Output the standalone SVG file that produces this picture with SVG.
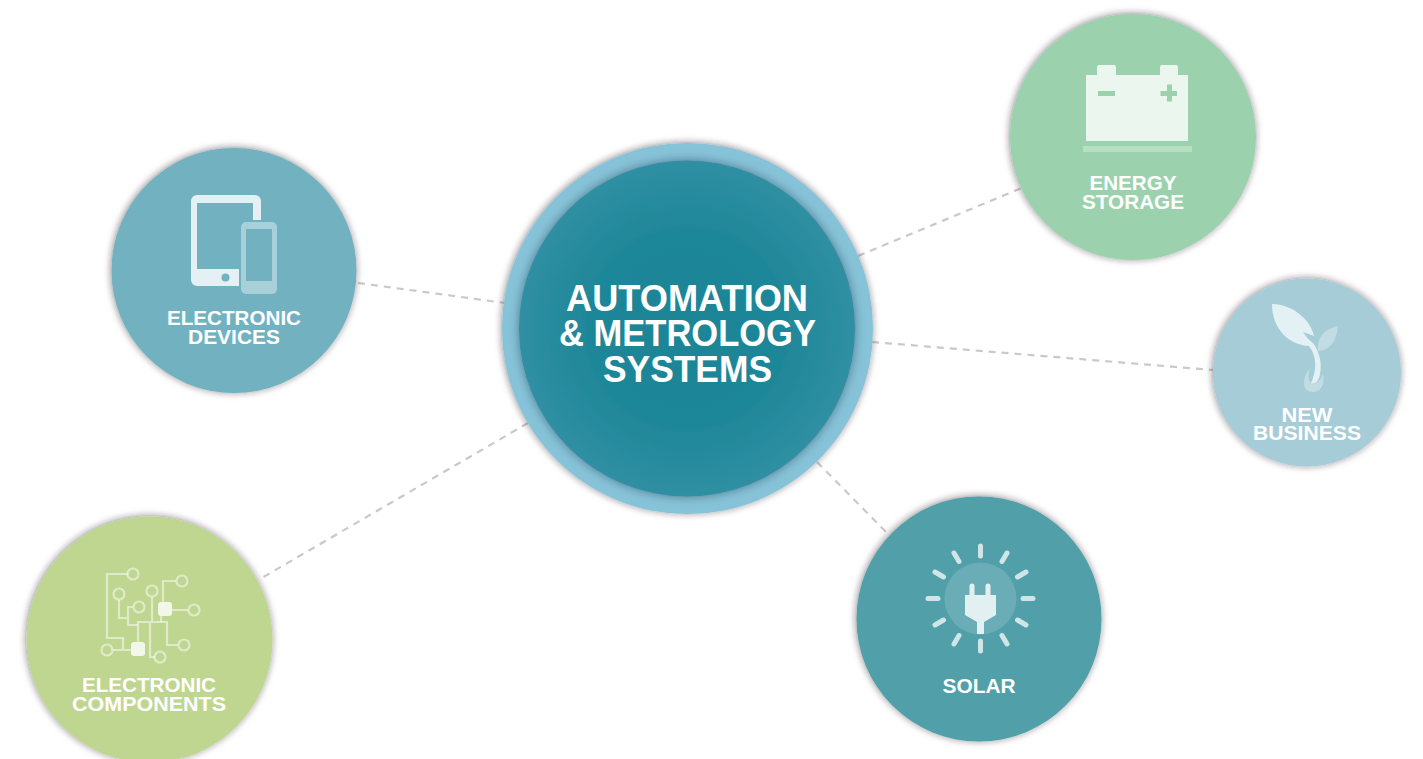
<svg xmlns="http://www.w3.org/2000/svg" width="1423" height="759" viewBox="0 0 1423 759">
<style>
text{font-family:"Liberation Sans",Arial,sans-serif;font-weight:700;fill:#fff;text-anchor:middle}
.lab{font-size:20px}
.title{font-size:36px}
.conn{fill:none;stroke:#c9c9c9;stroke-width:2.2;stroke-dasharray:7 6}
.ic{fill:none;stroke:#fff;stroke-opacity:.5;stroke-width:2.2}
</style>
<defs>
<filter id="sh" x="-15%" y="-15%" width="130%" height="130%"><feDropShadow dx="-0.500" dy="-0.500" stdDeviation="3.500" flood-color="#2a1f2a" flood-opacity=".55"/></filter>
<filter id="sh2" x="-15%" y="-15%" width="130%" height="130%"><feDropShadow dx="0" dy="0" stdDeviation="5" flood-color="#23394a" flood-opacity=".55"/></filter>
<radialGradient id="core"><stop offset="0" stop-color="#1a8596"/><stop offset=".6" stop-color="#1f8799"/><stop offset="1" stop-color="#308fa3"/></radialGradient>
</defs>
<g id="connectors">
<path class="conn" d="M358 283L505 303"/>
<path class="conn" d="M528 423L260 579"/>
<path class="conn" d="M858 256L1024 187"/>
<path class="conn" d="M872 342L1213 370"/>
<path class="conn" d="M817 462L888 534"/>
</g>
<g id="center">
<circle cx="687.500" cy="328.500" r="185.500" fill="#87c3d8" filter="url(#sh)"/>
<circle cx="687" cy="328.500" r="168" fill="url(#core)" filter="url(#sh2)"/>
<text class="title" x="687" y="311" textLength="242" lengthAdjust="spacingAndGlyphs">AUTOMATION</text>
<text class="title" x="687.500" y="346" textLength="257" lengthAdjust="spacingAndGlyphs">&amp; METROLOGY</text>
<text class="title" x="687.500" y="382" textLength="169" lengthAdjust="spacingAndGlyphs">SYSTEMS</text>
</g>
<g id="electronic-devices">
<circle cx="234" cy="270.500" r="122.500" fill="#72b2c0" filter="url(#sh)"/>
<path fill-rule="evenodd" fill="#e4f0f3" d="M197 195H255a6 6 0 0 1 6 6V220H253V203H197V269H239V286H197a6 6 0 0 1-6-6V201a6 6 0 0 1 6-6Z"/>
<circle cx="225.500" cy="277.500" r="4" fill="#72b2c0"/>
<path fill-rule="evenodd" fill="#a8d0d8" d="M246 222H272a5 5 0 0 1 5 5V289a5 5 0 0 1-5 5H246a5 5 0 0 1-5-5V227a5 5 0 0 1 5-5ZM246 229V281H272V229Z"/>
<text class="lab" x="234" y="325" textLength="134" lengthAdjust="spacingAndGlyphs">ELECTRONIC</text>
<text class="lab" x="234" y="344" textLength="92" lengthAdjust="spacingAndGlyphs">DEVICES</text>
</g>
<g id="energy-storage">
<circle cx="1133" cy="137" r="123" fill="#9bd2ad" filter="url(#sh)"/>
<path fill="#ebf6ef" d="M1086 75H1097V67a2 2 0 0 1 2-2H1114a2 2 0 0 1 2 2V75H1160V67a2 2 0 0 1 2-2H1176a2 2 0 0 1 2 2V75H1188V141H1086Z"/>
<path fill="#9bd2ad" d="M1098 91H1115V96H1098ZM1160.500 91H1167V84.500H1172V91H1177V96H1172V101.500H1167V96H1160.500Z"/>
<rect x="1083" y="146" width="109" height="6" fill="#b6dfc3"/>
<text class="lab" x="1133" y="190" textLength="87" lengthAdjust="spacingAndGlyphs">ENERGY</text>
<text class="lab" x="1133" y="209" textLength="102" lengthAdjust="spacingAndGlyphs">STORAGE</text>
</g>
<g id="new-business">
<circle cx="1307" cy="372.500" r="94" fill="#a6ccd7" filter="url(#sh)"/>
<path fill="#fff" fill-opacity=".32" d="M1338 326C1336 342 1330 350 1318 351C1316 336 1326 329 1338 326Z"/>
<path fill="#fff" fill-opacity=".32" d="M1310 369C1301 378 1302 392 1313 392C1323 392 1325 380 1323 374C1320 382 1315 385 1311 383C1308 380 1308 375 1310 369Z"/>
<path fill="#e3f0f4" d="M1272 304C1296 305 1311 322 1314 336L1303 332C1306 337 1310 341 1314 344C1320 354 1322 364 1320 374C1319 381 1315 385 1311 383C1316 372 1318 358 1309 346C1290 345 1272 330 1272 304Z"/>
<text class="lab" x="1307" y="422" textLength="51" lengthAdjust="spacingAndGlyphs">NEW</text>
<text class="lab" x="1307" y="440" textLength="108" lengthAdjust="spacingAndGlyphs">BUSINESS</text>
</g>
<g id="solar">
<circle cx="979" cy="619" r="122.500" fill="#519fa9" filter="url(#sh)"/>
<circle cx="980.500" cy="598.500" r="36" fill="#6aadb6"/>
<g stroke="#cfe5e8" stroke-width="5" stroke-linecap="round">
<path d="M980.500 546V556M980.500 641V651M928 598.500H938M1023 598.500H1033"/>
<path d="M954 553L959 561.500M1002 635.500L1007 644M1007 553L1002 561.500M959 635.500L954 644"/>
<path d="M935 572L943.500 577M1017.500 620L1026 625M1026 572L1017.500 577M943.500 620L935 625"/>
</g>
<path fill="#e3f0f2" d="M969.500 586a2.500 2.500 0 0 1 5 0V595H985.500V586a2.500 2.500 0 0 1 5 0V595H996V615L984 622V634H977V622L965 615V595H969.500Z"/>
<text class="lab" x="979" y="693" textLength="73" lengthAdjust="spacingAndGlyphs">SOLAR</text>
</g>
<g id="electronic-components">
<circle cx="149.500" cy="639.500" r="123" fill="#bfd690" filter="url(#sh)"/>
<g class="ic">
<path d="M128 574H107V638H123V650M113 650H131"/>
<path d="M119 600V618H128M128 618V625H138M128 618V607H133"/>
<path d="M152 597V622M138 643V622H167V645H178M150 622V657H155"/>
<path d="M163 602V581H176M171 610H188M161 616V622"/>
<circle cx="133" cy="574" r="5.500"/><circle cx="182" cy="581" r="5.500"/><circle cx="119" cy="594" r="5.500"/><circle cx="152" cy="591" r="5.500"/><circle cx="139" cy="607" r="5.500"/><circle cx="194" cy="610" r="5.500"/><circle cx="107" cy="650" r="5.500"/><circle cx="184" cy="645" r="5.500"/><circle cx="160" cy="657" r="5.500"/>
</g>
<rect x="158" y="602" width="14" height="14" rx="3" fill="#f3f7ea"/>
<rect x="131" y="642" width="14" height="14" rx="3" fill="#f3f7ea"/>
<text class="lab" x="149" y="692" textLength="134" lengthAdjust="spacingAndGlyphs">ELECTRONIC</text>
<text class="lab" x="149" y="711" textLength="154" lengthAdjust="spacingAndGlyphs">COMPONENTS</text>
</g>
</svg>
